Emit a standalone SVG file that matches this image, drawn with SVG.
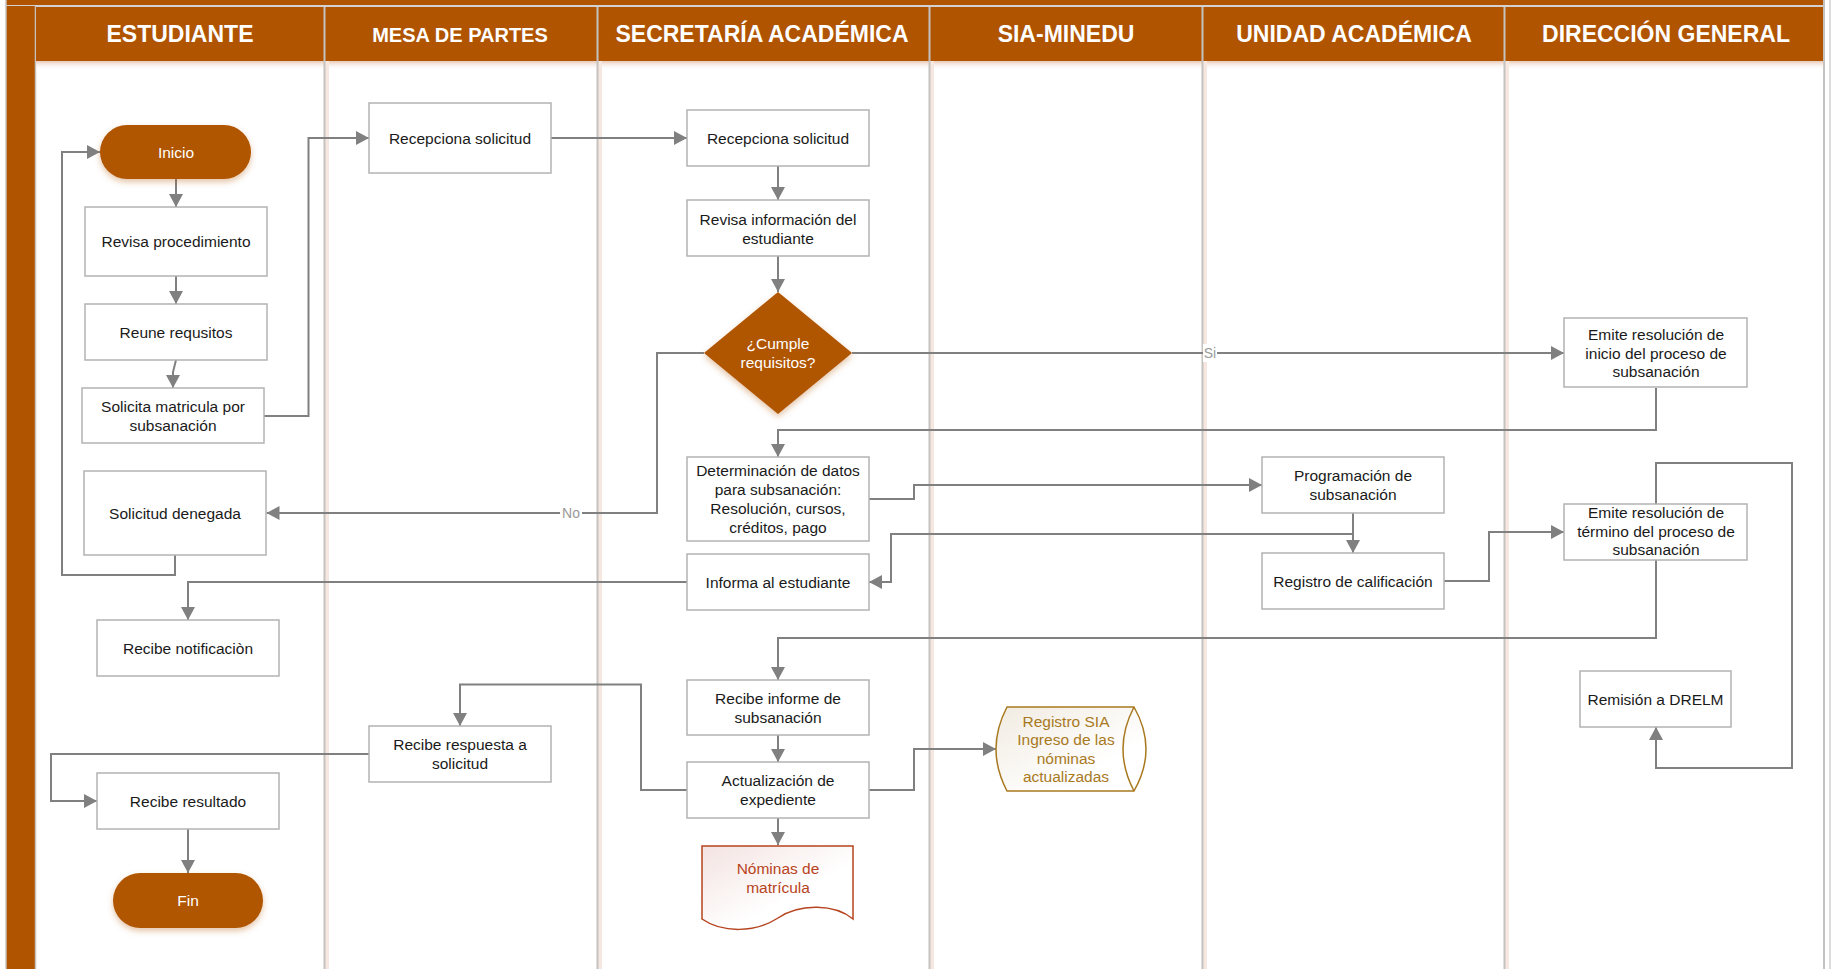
<svg xmlns="http://www.w3.org/2000/svg" width="1832" height="969" viewBox="0 0 1832 969">
<style>
.hdr{fill:#B05400}
.htx{font-family:"Liberation Sans",Arial,sans-serif;font-weight:bold;font-size:23px;fill:#ffffff;text-anchor:middle}
.div{stroke:#c6c2c0;stroke-width:2}
.glow{fill:#f6e7e1}
.box{fill:#ffffff;stroke:#b3b3b3;stroke-width:1.5}
.tx{font-family:"Liberation Sans",Arial,sans-serif;font-size:15.5px;fill:#1a1a1a;text-anchor:middle}
.wt{font-family:"Liberation Sans",Arial,sans-serif;font-size:15.5px;fill:#ffffff;text-anchor:middle}
.term{fill:#B05400}
.con{fill:none;stroke:#808080;stroke-width:2}
.arr{marker-end:url(#ah)}
.lbl{font-family:"Liberation Sans",Arial,sans-serif;font-size:14px;fill:#999999;text-anchor:middle}
</style>
<defs>
<marker id="ah" markerWidth="13" markerHeight="14" refX="13" refY="7" orient="auto" markerUnits="userSpaceOnUse">
<path d="M0,0 L13,7 L0,14 Z" fill="#808080"/>
</marker>
<filter id="sh" x="-20%" y="-20%" width="140%" height="160%">
<feDropShadow dx="0" dy="3" stdDeviation="3" flood-color="#b05400" flood-opacity="0.35"/>
</filter>
<linearGradient id="hs" x1="0" y1="0" x2="0" y2="1">
<stop offset="0" stop-color="#e9c9b8"/>
<stop offset="1" stop-color="#ffffff" stop-opacity="0"/>
</linearGradient>
<linearGradient id="docg" x1="0" y1="0" x2="1" y2="1">
<stop offset="0" stop-color="#f3e3e1"/>
<stop offset="0.6" stop-color="#ffffff"/>
</linearGradient>
<linearGradient id="sia" x1="0" y1="0" x2="1" y2="1">
<stop offset="0" stop-color="#f1ebe1"/>
<stop offset="0.7" stop-color="#ffffff"/>
</linearGradient>
</defs>

<g id="pool">
<rect x="0" y="0" width="1832" height="969" fill="#ffffff"/>
<rect x="6" y="0" width="1818" height="5" class="hdr"/>
<line x1="6" y1="6" x2="1824" y2="6" stroke="#c6c2c0" stroke-width="1.5"/>
<rect x="6" y="6" width="29" height="963" class="hdr"/>
<line x1="6" y1="0" x2="6" y2="969" stroke="#c6c2c0" stroke-width="1.5"/>
<line x1="35.5" y1="6" x2="35.5" y2="969" stroke="#c6c2c0" stroke-width="1.5"/>
<rect x="36" y="61" width="1788" height="9" fill="url(#hs)"/>
<g id="lane-glow">
<rect x="325" y="61" width="4" height="908" class="glow"/>
<rect x="598" y="61" width="4" height="908" class="glow"/>
<rect x="930" y="61" width="4" height="908" class="glow"/>
<rect x="1203" y="61" width="4" height="908" class="glow"/>
<rect x="1505" y="61" width="4" height="908" class="glow"/>
</g>
<rect x="36" y="7" width="288" height="54" class="hdr"/>
<rect x="325" y="7" width="272" height="54" class="hdr"/>
<rect x="598" y="7" width="331" height="54" class="hdr"/>
<rect x="930" y="7" width="272" height="54" class="hdr"/>
<rect x="1203" y="7" width="301" height="54" class="hdr"/>
<rect x="1505" y="7" width="318" height="54" class="hdr"/>
<line x1="324.5" y1="7" x2="324.5" y2="969" class="div"/>
<line x1="597.5" y1="7" x2="597.5" y2="969" class="div"/>
<line x1="929.5" y1="7" x2="929.5" y2="969" class="div"/>
<line x1="1202.5" y1="7" x2="1202.5" y2="969" class="div"/>
<line x1="1504.5" y1="7" x2="1504.5" y2="969" class="div"/>
<line x1="1824" y1="0" x2="1824" y2="969" class="div"/>
<line x1="1830" y1="0" x2="1830" y2="969" stroke="#d0d0d0" stroke-width="1.5"/>
<text x="180" y="41.5" class="htx">ESTUDIANTE</text>
<text x="460" y="41.5" class="htx" style="font-size:20px">MESA DE PARTES</text>
<text x="762" y="41.5" class="htx">SECRETARÍA ACADÉMICA</text>
<text x="1066" y="41.5" class="htx">SIA-MINEDU</text>
<text x="1354" y="41.5" class="htx">UNIDAD ACADÉMICA</text>
<text x="1666" y="41.5" class="htx">DIRECCIÓN GENERAL</text>
</g>

<g id="connectors">
<path class="con arr" d="M176,179 V207"/>
<path class="con arr" d="M176,276 V304"/>
<path class="con arr" d="M176,360 L173,372 V388"/>
<path class="con arr" d="M264,416 H308.5 V138 H369"/>
<path class="con arr" d="M551,138 H687"/>
<path class="con arr" d="M778,166 V200"/>
<path class="con arr" d="M778,256 V292"/>
<path class="con arr" d="M852,353 H1564"/>
<path class="con arr" d="M704,353 H657 V513 H266.5"/>
<path class="con arr" d="M1656,388 V430 H778 V457"/>
<path class="con arr" d="M175,555 V575 H62 V152 H100"/>
<path class="con arr" d="M869,499 H914 V485 H1262"/>
<path class="con arr" d="M1353,513 V553"/>
<path class="con arr" d="M1353,534 H891 V582 H869"/>
<path class="con arr" d="M687,582 H188 V620"/>
<path class="con arr" d="M1444,581 H1489 V532 H1564"/>
<path class="con arr" d="M1656,560 V638 H778 V680"/>
<path class="con arr" d="M1656,504 V463 H1792 V768 H1656 V727"/>
<path class="con arr" d="M778,735 V762"/>
<path class="con arr" d="M687,790 H641 V684.5 H460 V726"/>
<path class="con arr" d="M369,754 H51 V801 H97"/>
<path class="con arr" d="M188,828 V873"/>
<path class="con arr" d="M869,790 H914 V749 H996"/>
<path class="con arr" d="M778,818 V845"/>
<rect x="1203" y="344" width="14" height="18" fill="#ffffff"/>
<text x="1210" y="358" class="lbl">Si</text>
<rect x="560" y="504" width="22" height="18" fill="#ffffff"/>
<text x="571" y="518" class="lbl">No</text>
</g>

<g id="n-inicio">
<rect x="100" y="125" width="151" height="54" rx="27" class="term" filter="url(#sh)"/>
<text x="176" y="157.5" class="wt">Inicio</text>
</g>
<g id="n-revisa-proc">
<rect x="85" y="207" width="182" height="69" class="box"/>
<text x="176" y="247" class="tx">Revisa procedimiento</text>
</g>
<g id="n-reune">
<rect x="85" y="304" width="182" height="56" class="box"/>
<text x="176" y="337.5" class="tx">Reune requsitos</text>
</g>
<g id="n-solicita">
<rect x="82" y="388" width="182" height="55" class="box"/>
<text x="173" y="411.5" class="tx">Solicita matricula por</text>
<text x="173" y="430.5" class="tx">subsanación</text>
</g>
<g id="n-denegada">
<rect x="84" y="471" width="182" height="84" class="box"/>
<text x="175" y="518.5" class="tx">Solicitud denegada</text>
</g>
<g id="n-notificacion">
<rect x="97" y="620" width="182" height="56" class="box"/>
<text x="188" y="653.5" class="tx">Recibe notificaciòn</text>
</g>
<g id="n-resultado">
<rect x="97" y="773" width="182" height="56" class="box"/>
<text x="188" y="806.5" class="tx">Recibe resultado</text>
</g>
<g id="n-fin">
<rect x="113" y="873" width="150" height="55" rx="27.5" class="term" filter="url(#sh)"/>
<text x="188" y="906" class="wt">Fin</text>
</g>
<g id="n-mesa-recepciona">
<rect x="369" y="103" width="182" height="70" class="box"/>
<text x="460" y="143.5" class="tx">Recepciona solicitud</text>
</g>
<g id="n-respuesta">
<rect x="369" y="726" width="182" height="56" class="box"/>
<text x="460" y="750" class="tx">Recibe respuesta a</text>
<text x="460" y="769" class="tx">solicitud</text>
</g>
<g id="n-sec-recepciona">
<rect x="687" y="110" width="182" height="56" class="box"/>
<text x="778" y="143.5" class="tx">Recepciona solicitud</text>
</g>
<g id="n-revisa-info">
<rect x="687" y="200" width="182" height="56" class="box"/>
<text x="778" y="224.5" class="tx">Revisa información del</text>
<text x="778" y="243.5" class="tx">estudiante</text>
</g>
<g id="n-cumple">
<path d="M778,292 L852,353 L778,414 L704,353 Z" class="term" filter="url(#sh)"/>
<text x="778" y="349" class="wt">¿Cumple</text>
<text x="778" y="368" class="wt">requisitos?</text>
</g>
<g id="n-determinacion">
<rect x="687" y="457" width="182" height="84" class="box"/>
<text x="778" y="476" class="tx">Determinación de datos</text>
<text x="778" y="495" class="tx">para subsanación:</text>
<text x="778" y="514" class="tx">Resolución, cursos,</text>
<text x="778" y="533" class="tx">créditos, pago</text>
</g>
<g id="n-informa">
<rect x="687" y="554" width="182" height="56" class="box"/>
<text x="778" y="587.5" class="tx">Informa al estudiante</text>
</g>
<g id="n-recibe-informe">
<rect x="687" y="680" width="182" height="55" class="box"/>
<text x="778" y="703.5" class="tx">Recibe informe de</text>
<text x="778" y="722.5" class="tx">subsanación</text>
</g>
<g id="n-actualizacion">
<rect x="687" y="762" width="182" height="56" class="box"/>
<text x="778" y="786" class="tx">Actualización de</text>
<text x="778" y="805" class="tx">expediente</text>
</g>
<g id="n-nominas">
<path d="M702,846 H853 V919 C835,904 800,903 778,918 C755,933 722,933 702,919 Z" fill="url(#docg)" stroke="#b5441e" stroke-width="1.5"/>
<text x="778" y="873.5" class="tx" style="fill:#b8431c">Nóminas de</text>
<text x="778" y="892.5" class="tx" style="fill:#b8431c">matrícula</text>
</g>
<g id="n-registro-sia">
<path d="M1007,707 H1134 Q1158,749 1134,791 H1007 Q985,749 1007,707 Z" fill="url(#sia)" stroke="#a8791e" stroke-width="1.5"/>
<path d="M1134,707 Q1112,749 1134,791" fill="none" stroke="#a8791e" stroke-width="1.5"/>
<text x="1066" y="726.5" class="tx" style="fill:#a8791e">Registro  SIA</text>
<text x="1066" y="745" class="tx" style="fill:#a8791e">Ingreso de las</text>
<text x="1066" y="763.5" class="tx" style="fill:#a8791e">nóminas</text>
<text x="1066" y="782" class="tx" style="fill:#a8791e">actualizadas</text>
</g>
<g id="n-programacion">
<rect x="1262" y="457" width="182" height="56" class="box"/>
<text x="1353" y="481" class="tx">Programación de</text>
<text x="1353" y="500" class="tx">subsanación</text>
</g>
<g id="n-registro-calif">
<rect x="1262" y="553" width="182" height="56" class="box"/>
<text x="1353" y="586.5" class="tx">Registro de calificación</text>
</g>
<g id="n-emite-inicio">
<rect x="1564" y="318" width="183" height="69" class="box"/>
<text x="1656" y="340" class="tx">Emite resolución de</text>
<text x="1656" y="358.5" class="tx">inicio del proceso de</text>
<text x="1656" y="377" class="tx">subsanación</text>
</g>
<g id="n-emite-termino">
<rect x="1564" y="504" width="183" height="56" class="box"/>
<text x="1656" y="518" class="tx">Emite resolución de</text>
<text x="1656" y="536.5" class="tx">término del proceso de</text>
<text x="1656" y="555" class="tx">subsanación</text>
</g>
<g id="n-remision">
<rect x="1580" y="671" width="151" height="56" class="box"/>
<text x="1655.5" y="704.5" class="tx">Remisión a DRELM</text>
</g>
</svg>
